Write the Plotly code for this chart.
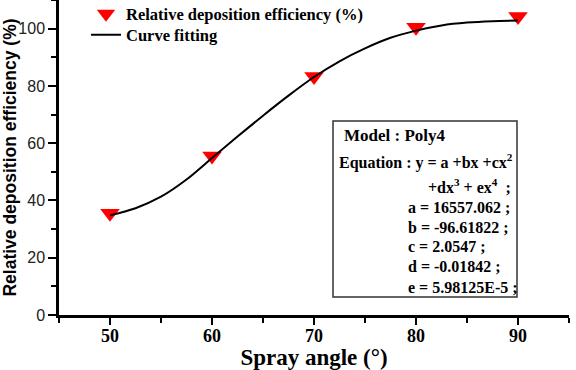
import plotly.graph_objects as go

# Measured data
spray_angle = [50, 60, 70, 80, 90]
deposition_eff = [35.5, 55.5, 83.3, 100.5, 104.2]

# Fitted curve
fit_x = [50, 52.5, 55, 57.5, 60, 62.5, 65, 67.5, 70, 72.5, 75, 77.5, 80, 82.5, 85, 87.5, 90]
fit_y = [34.8, 37.3, 41.3, 47.3, 54.8, 62.3, 69.6, 76.6, 83.1, 88.6, 93.1, 96.8, 99.3, 101.1, 102.1, 102.6, 102.8]

x_ticks = [50, 60, 70, 80, 90]
y_ticks = [0, 20, 40, 60, 80, 100]

model_lines = [
    "Model : Poly4",
    "Equation : y = a +bx +cx<sup>2</sup>",
    "+dx<sup>3</sup> + ex<sup>4</sup>  ;",
    "a = 16557.062 ;",
    "b = -96.61822 ;",
    "c = 2.0547 ;",
    "d = -0.01842 ;",
    "e = 5.98125E-5 ;",
]

SERIF = "Liberation Serif, Times New Roman, serif"
SANS = "Liberation Sans, Arial, sans-serif"

fig = go.Figure()
fig.add_trace(go.Scatter(
    x=spray_angle, y=deposition_eff, mode="markers",
    name="Relative deposition efficiency (%)", legend="legend",
    marker=dict(symbol="triangle-down", size=17, color="#ff0000", line=dict(width=0)),
))
fig.add_trace(go.Scatter(
    x=fit_x, y=fit_y, mode="lines", name="Curve fitting", legend="legend2",
    line=dict(color="black", width=2, shape="spline", smoothing=0.8),
))

W, H = 576, 370
L, R, T, B = 59, 7, 0, 55
pw, ph = W - L - R, H - T - B

def px(xp):
    return (xp - L) / pw

def py(yp):
    return (H - B - yp) / ph

axis_common = dict(
    showline=True, linecolor="black", linewidth=2.5, mirror=False,
    ticks="outside", tickwidth=2, tickcolor="black",
    showgrid=False, zeroline=False,
)

legend_font = dict(family=SERIF, size=16.5, color="black", weight="bold")

fig.update_layout(
    width=W, height=H,
    margin=dict(l=L, r=R, t=T, b=B, autoexpand=False),
    paper_bgcolor="white", plot_bgcolor="white",
    xaxis=dict(
        range=[45, 95], tickvals=x_ticks, ticklen=7, ticklabelstandoff=-4,
        tickfont=dict(family=SERIF, size=18, color="black", weight="bold"),
        title=dict(text="<b>Spray angle (°)</b>", font=dict(family=SERIF, size=23, color="black"), standoff=4),
        minor=dict(ticks="outside", ticklen=5, tickwidth=2, tickcolor="black", dtick=5, tick0=45),
        **axis_common,
    ),
    yaxis=dict(
        range=[0, 110], tickvals=y_ticks, ticklen=8,
        tickfont=dict(family=SANS, size=16, color="#222"),
        title=dict(text="<b>Relative deposition efficiency (%)</b>", font=dict(family=SANS, size=17.5, color="black"), standoff=2),
        minor=dict(ticks="outside", ticklen=5, tickwidth=2, tickcolor="black", dtick=10, tick0=0),
        **axis_common,
    ),
    legend=dict(
        x=px(86), y=py(14), xanchor="left", yanchor="middle",
        font=legend_font, bgcolor="rgba(0,0,0,0)", borderwidth=0,
    ),
    legend2=dict(
        x=px(86), y=py(35), xanchor="left", yanchor="middle",
        font=legend_font, bgcolor="rgba(0,0,0,0)", borderwidth=0,
    ),
    showlegend=True,
)

# Model info box
fig.add_shape(type="rect", xref="paper", yref="paper",
              x0=px(333), x1=px(517), y0=py(297), y1=py(121),
              line=dict(color="#333", width=1.5), fillcolor="rgba(0,0,0,0)")

positions = [
    (342, 135, "left", 17),
    (337, 161, "left", 16),
    (513, 186, "right", 16),
    (406, 207, "left", 16),
    (406, 227, "left", 16),
    (406, 246, "left", 16),
    (406, 266, "left", 16),
    (406, 287, "left", 16),
]
for text, (xp, yp, anchor, fs) in zip(model_lines, positions):
    fig.add_annotation(
        xref="paper", yref="paper", x=px(xp), y=py(yp),
        xanchor=anchor, yanchor="middle", showarrow=False,
        text="<b>" + text + "</b>",
        font=dict(family=SERIF, size=fs, color="black"),
    )

fig.write_html("out.html")
